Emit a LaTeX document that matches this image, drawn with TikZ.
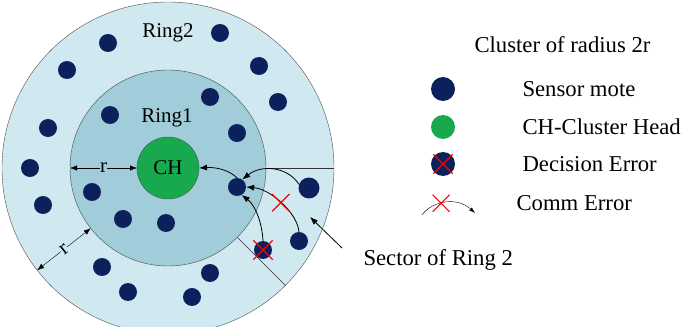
\documentclass[tikz,border=0pt]{standalone}
\usepackage{fontspec}
\setmainfont{Liberation Serif}
\usetikzlibrary{shapes.misc, arrows.meta}

\definecolor{moteblue}{RGB}{12,32,92}
\definecolor{chgreen}{RGB}{24,168,78}
\definecolor{ringout}{RGB}{208,232,240}
\definecolor{ringin}{RGB}{160,205,217}

\tikzset{
  mote/.style={circle, fill=moteblue, minimum size=18pt, inner sep=0pt},
  errx/.style={cross out, draw=red, line width=1.3pt, minimum size=16pt, inner sep=0pt},
  link/.style={-{Latex[length=8pt, width=6pt]}, thick},
  ring/.style={circle, draw=black!70, inner sep=0pt, outer sep=0pt},
  keytext/.style={anchor=west, font=\fontsize{22.7}{27}\selectfont},
}

\begin{document}
\begin{tikzpicture}[x=1pt, y=1pt, every node/.style={font=\fontsize{21}{25}\selectfont}]
\useasboundingbox (0,0) rectangle (681,327);

% Rings
\coordinate (c) at (168,159);
\node[ring, fill=ringout, minimum size=332pt] (ring2) at (c) {};
\node[ring, fill=ringin, minimum size=196pt] (ring1) at (c) {};
\node[ring, fill=chgreen, minimum size=62pt] (ch) at (c) {CH};
\node (lring2) at (168,294) {Ring2};
\node (lring1) at (167,209) {Ring1};

% Sector of ring 2
\draw[black!80] (ring1.0) -- (ring2.0);
\draw[black!80] (ring1.-45) -- (ring2.-45);

% Radius marks
\draw[{Latex[length=7pt]}-{Latex[length=7pt]}] (ring1.west) -- (ch.west)
  node[midway, fill=ringin, inner sep=0.5pt] (r1) {r};
\draw[{Latex[length=7pt]}-{Latex[length=7pt]}] (ring2.218) -- (ring1.218)
  node[midway, sloped, fill=ringout, inner sep=0.5pt] (r2) {r};

% Motes in ring 2
\node[mote] (o1) at (108,284) {};
\node[mote] (o2) at (220,294) {};
\node[mote] (o3) at (67,257) {};
\node[mote] (o4) at (259,261) {};
\node[mote] (o5) at (278,225) {};
\node[mote] (o6) at (48,199) {};
\node[mote] (o7) at (30,159) {};
\node[mote] (o8) at (43,122) {};
\node[mote] (o9) at (102,60) {};
\node[mote] (o10) at (128,35) {};
\node[mote] (o11) at (192,30) {};
\node[mote] (o12) at (210,54) {};
\node[mote, minimum size=21pt] (o13) at (309,139) {};
\node[mote] (o14) at (299,86) {};
\node[mote] (dx) at (263,77) {};
\node[errx, minimum size=18pt] (dxcross) at (dx) {};

% Motes in ring 1
\node[mote] (i1) at (110,212) {};
\node[mote] (i2) at (210,230) {};
\node[mote] (i3) at (237,194) {};
\node[mote] (i4) at (92,135) {};
\node[mote] (i5) at (123,108) {};
\node[mote] (i6) at (166,104) {};
\node[mote] (i7) at (237,140) {};

% Routes to the cluster head
\draw[link] (i7.north) .. controls (229,157) and (216,160) .. (ch.east);
\draw[link] (o13.160) .. controls (288,160) and (262,163) .. (i7.55);
\draw[link] (o14.north) .. controls (297,115) and (270,138) .. (i7.east)
  node[errx, pos=0.5] (commx) {};
\draw[link] (dx.north) .. controls (262,105) and (255,122) .. (i7.-60);

% Legend
\node[keytext] (title) at (471,282) {Cluster of radius 2r};
\node[mote, minimum size=24pt] (kmote) at (443,238) {};
\node[keytext] (tmote) at (519,238) {Sensor mote};
\node[mote, fill=chgreen, minimum size=24pt] (kch) at (443,200) {};
\node[keytext] (tch) at (519,200) {CH-Cluster Head};
\node[mote, minimum size=24pt] (kdec) at (443,163) {};
\node[errx, minimum size=18pt] (kdecx) at (kdec) {};
\node[keytext] (tdec) at (519,163) {Decision Error};
\coordinate (kcomma) at (422,112);
\coordinate (kcommb) at (475,114);
\draw[-{Latex[length=6pt, width=4pt]}, thin] (kcomma) .. controls (430,124) and (455,132) .. (kcommb)
  node[errx, pos=0.45, line width=1pt] (kcommx) {};
\node[keytext] (tcomm) at (513,124) {Comm Error};

% Sector label
\node[keytext] (tsector) at (360,67) {Sector of Ring 2};
\coordinate (sectail) at (342,79);
\coordinate (sectip) at (310,110);
\draw[link] (sectail) -- (sectip);
\end{tikzpicture}
\end{document}
